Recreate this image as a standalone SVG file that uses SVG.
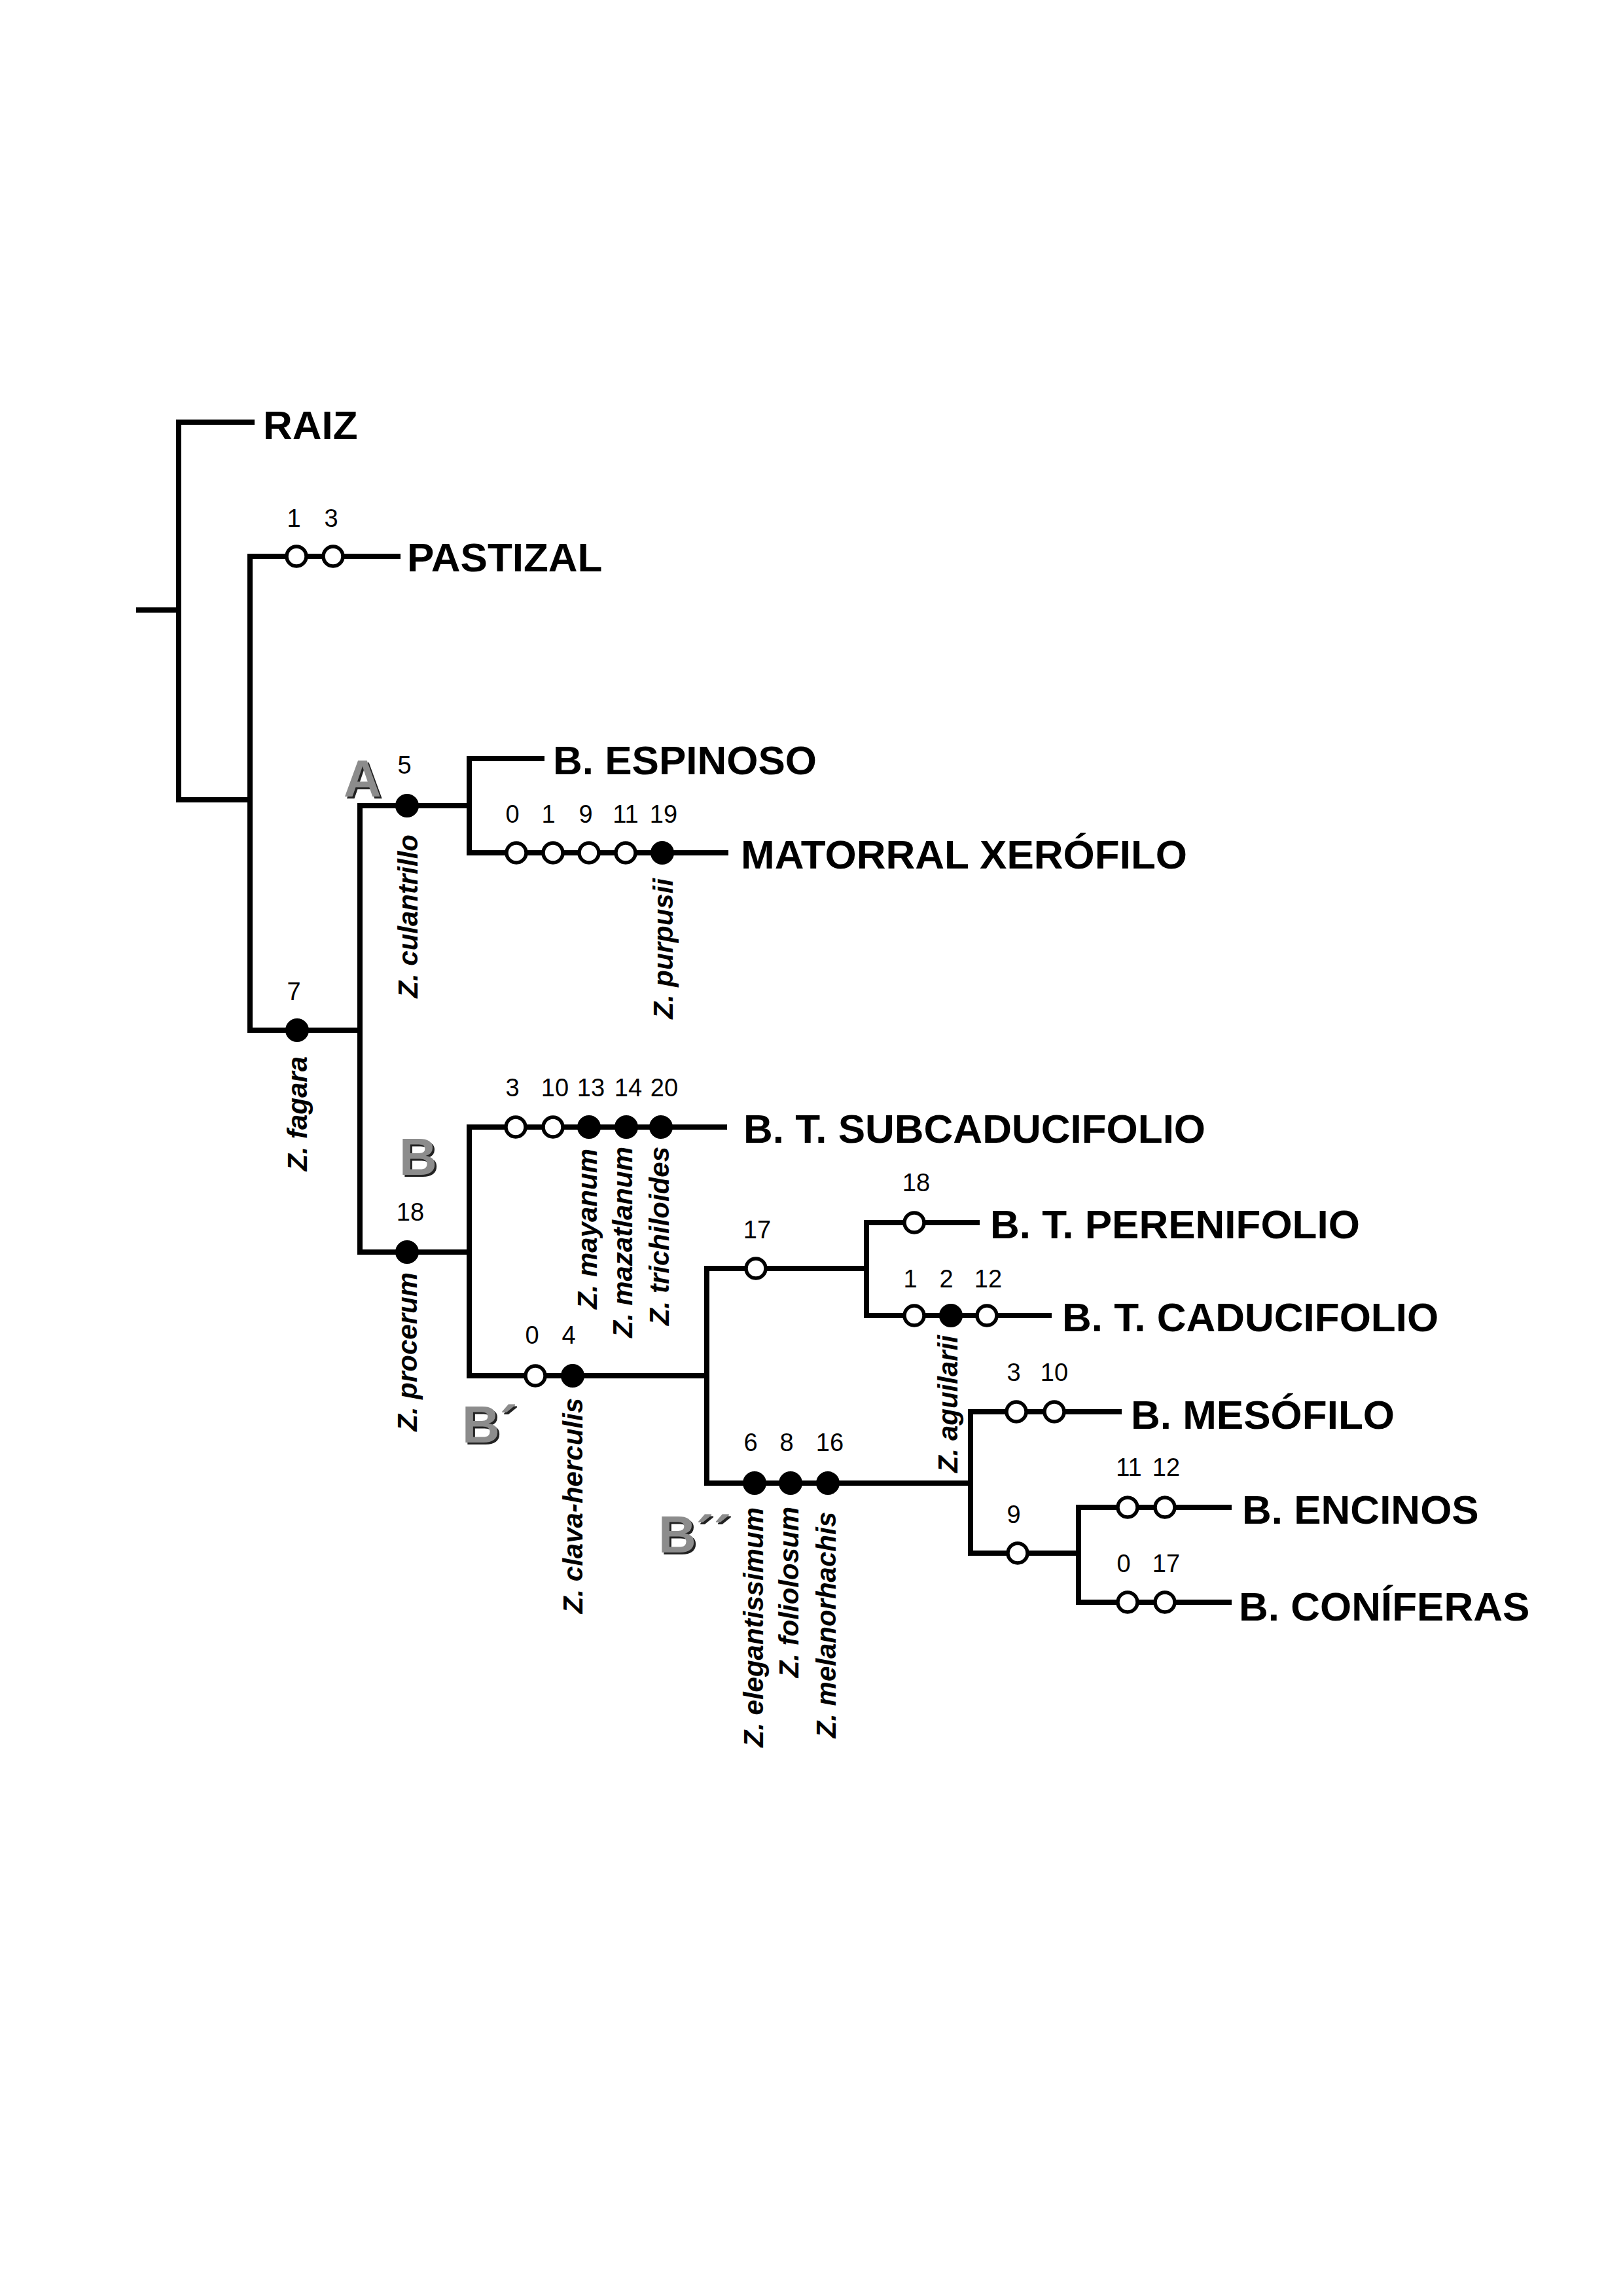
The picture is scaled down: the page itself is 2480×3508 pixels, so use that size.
<svg xmlns="http://www.w3.org/2000/svg" width="2480" height="3508" viewBox="0 0 2480 3508">
<style>
.br{fill:none;stroke:#000;stroke-width:8;stroke-linecap:square;stroke-linejoin:miter}
.op{fill:#fff;stroke:#000;stroke-width:5.5}
.fl{fill:#000;stroke:#000;stroke-width:2}
.lab{font-family:"Liberation Sans",Arial,sans-serif;font-weight:bold;font-size:62px;fill:#000}
.num{font-family:"Liberation Sans",Arial,sans-serif;font-size:38px;fill:#000;text-anchor:middle}
.sp{font-family:"Liberation Sans",Arial,sans-serif;font-weight:bold;font-style:italic;font-size:42px;fill:#000;text-anchor:end}
.cl{font-family:"Liberation Sans",Arial,sans-serif;font-weight:bold;font-size:80px;fill:#8c8c8c}
.cls{font-family:"Liberation Sans",Arial,sans-serif;font-weight:bold;font-size:80px;fill:#222}
</style>
<rect width="2480" height="3508" fill="#fff"/>
<g id="connectors">
<path class="br" d="M212,932 H273"/>
<path class="br" d="M385,645 H273 V1222 H382"/>
<path class="br" d="M608,850 H382 V1574 H550"/>
<path class="br" d="M717,1231 H550 V1913 H717"/>
<path class="br" d="M828,1159 H717 V1303 H1109"/>
<path class="br" d="M1107,1722 H717 V2102 H1080"/>
<path class="br" d="M1324,1938 H1080 V2266 H1483"/>
<path class="br" d="M1493,1868 H1324 V2010 H1603"/>
<path class="br" d="M1710,2157 H1483 V2373 H1648"/>
<path class="br" d="M1878,2303 H1648 V2448 H1878"/>
</g>
<g id="clade-letters">
<text class="cls" x="528" y="1220">A</text><text class="cl" x="525" y="1217">A</text>
<text class="cls" x="613" y="1798">B</text><text class="cl" x="610" y="1795">B</text>
<text class="cls" x="709" y="2207">B´</text><text class="cl" x="706" y="2204">B´</text>
<text class="cls" x="1009" y="2375">B´´</text><text class="cl" x="1006" y="2372">B´´</text>
</g>
<g id="leaf-raiz"><text class="lab" x="402" y="671">RAIZ</text></g>
<g id="leaf-pastizal"><text class="lab" x="622" y="873">PASTIZAL</text></g>
<g id="leaf-espinoso"><text class="lab" x="845" y="1183">B. ESPINOSO</text></g>
<g id="leaf-matorral"><text class="lab" x="1132" y="1327">MATORRAL XERÓFILO</text></g>
<g id="leaf-subcaducifolio"><text class="lab" x="1136" y="1746">B. T. SUBCADUCIFOLIO</text></g>
<g id="leaf-perenifolio"><text class="lab" x="1513" y="1892">B. T. PERENIFOLIO</text></g>
<g id="leaf-caducifolio"><text class="lab" x="1623" y="2034">B. T. CADUCIFOLIO</text></g>
<g id="leaf-mesofilo"><text class="lab" x="1728" y="2183">B. MESÓFILO</text></g>
<g id="leaf-encinos"><text class="lab" x="1898" y="2328">B. ENCINOS</text></g>
<g id="leaf-coniferas"><text class="lab" x="1893" y="2476">B. CONÍFERAS</text></g>
<g id="marks-pastizal">
<circle class="op" cx="453" cy="850" r="15"/><circle class="op" cx="509" cy="850" r="15"/>
<text class="num" x="449" y="805">1</text><text class="num" x="506" y="805">3</text>
</g>
<g id="marks-fagara">
<circle class="fl" cx="454" cy="1574" r="17"/>
<text class="num" x="449" y="1528">7</text>
<text class="sp" transform="translate(469,1614) rotate(-90)">Z. fagara</text>
</g>
<g id="marks-A">
<circle class="fl" cx="622" cy="1231" r="17"/>
<text class="num" x="618" y="1182">5</text>
<text class="sp" transform="translate(638,1275) rotate(-90)">Z. culantrillo</text>
</g>
<g id="marks-matorral">
<circle class="op" cx="789" cy="1303" r="15"/><circle class="op" cx="845" cy="1303" r="15"/>
<circle class="op" cx="900" cy="1303" r="15"/><circle class="op" cx="956" cy="1303" r="15"/>
<circle class="fl" cx="1012" cy="1303" r="17"/>
<text class="num" x="783" y="1257">0</text><text class="num" x="838" y="1257">1</text>
<text class="num" x="895" y="1257">9</text><text class="num" x="956" y="1257">11</text>
<text class="num" x="1014" y="1257">19</text>
<text class="sp" transform="translate(1028,1342) rotate(-90)">Z. purpusii</text>
</g>
<g id="marks-subcaducifolio">
<circle class="op" cx="788" cy="1722" r="15"/><circle class="op" cx="845" cy="1722" r="15"/>
<circle class="fl" cx="900" cy="1722" r="17"/><circle class="fl" cx="957" cy="1722" r="17"/>
<circle class="fl" cx="1010" cy="1722" r="17"/>
<text class="num" x="783" y="1675">3</text><text class="num" x="848" y="1675">10</text>
<text class="num" x="903" y="1675">13</text><text class="num" x="960" y="1675">14</text>
<text class="num" x="1015" y="1675">20</text>
<text class="sp" transform="translate(912,1755) rotate(-90)">Z. mayanum</text>
<text class="sp" transform="translate(966,1752) rotate(-90)">Z. mazatlanum</text>
<text class="sp" transform="translate(1022,1752) rotate(-90)">Z. trichiloides</text>
</g>
<g id="marks-B">
<circle class="fl" cx="622" cy="1913" r="17"/>
<text class="num" x="627" y="1865">18</text>
<text class="sp" transform="translate(637,1944) rotate(-90)">Z. procerum</text>
</g>
<g id="marks-Bprime">
<circle class="op" cx="818" cy="2102" r="15"/><circle class="fl" cx="875" cy="2102" r="17"/>
<text class="num" x="813" y="2053">0</text><text class="num" x="869" y="2053">4</text>
<text class="sp" transform="translate(890,2136) rotate(-90)">Z. clava-herculis</text>
</g>
<g id="marks-17">
<circle class="op" cx="1155" cy="1938" r="15"/>
<text class="num" x="1157" y="1892">17</text>
</g>
<g id="marks-perenifolio">
<circle class="op" cx="1397" cy="1868" r="15"/>
<text class="num" x="1400" y="1820">18</text>
</g>
<g id="marks-caducifolio">
<circle class="op" cx="1397" cy="2010" r="15"/><circle class="fl" cx="1453" cy="2010" r="17"/>
<circle class="op" cx="1508" cy="2010" r="15"/>
<text class="num" x="1391" y="1967">1</text><text class="num" x="1446" y="1967">2</text>
<text class="num" x="1510" y="1967">12</text>
<text class="sp" transform="translate(1463,2040) rotate(-90)">Z. aguilarii</text>
</g>
<g id="marks-Bdoubleprime">
<circle class="fl" cx="1153" cy="2266" r="17"/><circle class="fl" cx="1208" cy="2266" r="17"/>
<circle class="fl" cx="1265" cy="2266" r="17"/>
<text class="num" x="1147" y="2217">6</text><text class="num" x="1202" y="2217">8</text>
<text class="num" x="1268" y="2217">16</text>
<text class="sp" transform="translate(1166,2303) rotate(-90)">Z. elegantissimum</text>
<text class="sp" transform="translate(1220,2302) rotate(-90)">Z. foliolosum</text>
<text class="sp" transform="translate(1277,2310) rotate(-90)">Z. melanorhachis</text>
</g>
<g id="marks-mesofilo">
<circle class="op" cx="1553" cy="2157" r="15"/><circle class="op" cx="1611" cy="2157" r="15"/>
<text class="num" x="1549" y="2110">3</text><text class="num" x="1611" y="2110">10</text>
</g>
<g id="marks-9">
<circle class="op" cx="1555" cy="2373" r="15"/>
<text class="num" x="1549" y="2327">9</text>
</g>
<g id="marks-encinos">
<circle class="op" cx="1723" cy="2303" r="15"/><circle class="op" cx="1780" cy="2303" r="15"/>
<text class="num" x="1725" y="2255">11</text><text class="num" x="1782" y="2255">12</text>
</g>
<g id="marks-coniferas">
<circle class="op" cx="1723" cy="2448" r="15"/><circle class="op" cx="1780" cy="2448" r="15"/>
<text class="num" x="1717" y="2402">0</text><text class="num" x="1782" y="2402">17</text>
</g>
</svg>
